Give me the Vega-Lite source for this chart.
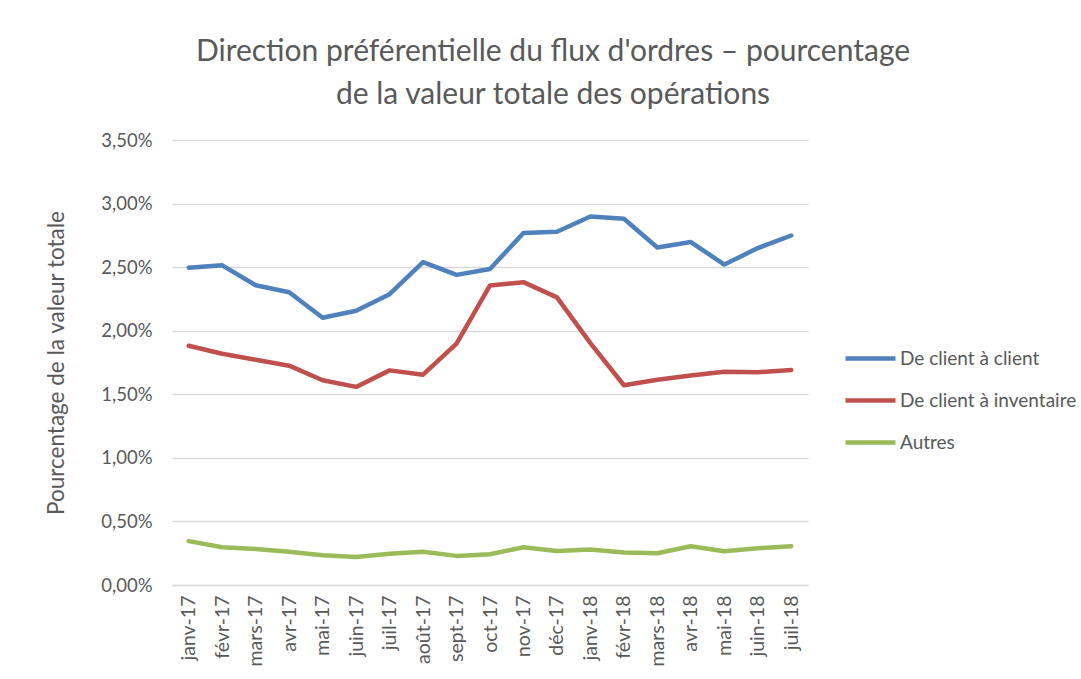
{
  "$schema": "https://vega.github.io/schema/vega-lite/v6.json",
  "autosize": "none",
  "width": 636,
  "height": 445,
  "padding": {"left": 172, "top": 140, "right": 273, "bottom": 94},
  "background": "white",
  "title": {
    "text": ["Direction préférentielle du flux d'ordres – pourcentage", "de la valeur totale des opérations"],
    "anchor": "middle",
    "frame": "group",
    "dx": 63,
    "offset": 21,
    "fontSize": 30,
    "font": "Lato",
    "fontWeight": "normal",
    "color": "#595959",
    "lineHeight": 43
  },
  "data": {
    "values": [
      {"mois": "janv-17", "serie": "De client à client", "valeur": 0.02496},
      {"mois": "févr-17", "serie": "De client à client", "valeur": 0.02514},
      {"mois": "mars-17", "serie": "De client à client", "valeur": 0.02358},
      {"mois": "avr-17", "serie": "De client à client", "valeur": 0.02303},
      {"mois": "mai-17", "serie": "De client à client", "valeur": 0.02102},
      {"mois": "juin-17", "serie": "De client à client", "valeur": 0.02157},
      {"mois": "juil-17", "serie": "De client à client", "valeur": 0.02287},
      {"mois": "août-17", "serie": "De client à client", "valeur": 0.0254},
      {"mois": "sept-17", "serie": "De client à client", "valeur": 0.02439},
      {"mois": "oct-17", "serie": "De client à client", "valeur": 0.02486},
      {"mois": "nov-17", "serie": "De client à client", "valeur": 0.02768},
      {"mois": "déc-17", "serie": "De client à client", "valeur": 0.02778},
      {"mois": "janv-18", "serie": "De client à client", "valeur": 0.02898},
      {"mois": "févr-18", "serie": "De client à client", "valeur": 0.0288},
      {"mois": "mars-18", "serie": "De client à client", "valeur": 0.02655},
      {"mois": "avr-18", "serie": "De client à client", "valeur": 0.02697},
      {"mois": "mai-18", "serie": "De client à client", "valeur": 0.0252},
      {"mois": "juin-18", "serie": "De client à client", "valeur": 0.0265},
      {"mois": "juil-18", "serie": "De client à client", "valeur": 0.02749},
      {"mois": "janv-17", "serie": "De client à inventaire", "valeur": 0.01882},
      {"mois": "févr-17", "serie": "De client à inventaire", "valeur": 0.01819},
      {"mois": "mars-17", "serie": "De client à inventaire", "valeur": 0.01772},
      {"mois": "avr-17", "serie": "De client à inventaire", "valeur": 0.01725},
      {"mois": "mai-17", "serie": "De client à inventaire", "valeur": 0.0161},
      {"mois": "juin-17", "serie": "De client à inventaire", "valeur": 0.01558},
      {"mois": "juil-17", "serie": "De client à inventaire", "valeur": 0.01688},
      {"mois": "août-17", "serie": "De client à inventaire", "valeur": 0.01654},
      {"mois": "sept-17", "serie": "De client à inventaire", "valeur": 0.01898},
      {"mois": "oct-17", "serie": "De client à inventaire", "valeur": 0.02356},
      {"mois": "nov-17", "serie": "De client à inventaire", "valeur": 0.02382},
      {"mois": "déc-17", "serie": "De client à inventaire", "valeur": 0.02262},
      {"mois": "janv-18", "serie": "De client à inventaire", "valeur": 0.01903},
      {"mois": "févr-18", "serie": "De client à inventaire", "valeur": 0.01571},
      {"mois": "mars-18", "serie": "De client à inventaire", "valeur": 0.01615},
      {"mois": "avr-18", "serie": "De client à inventaire", "valeur": 0.01647},
      {"mois": "mai-18", "serie": "De client à inventaire", "valeur": 0.01678},
      {"mois": "juin-18", "serie": "De client à inventaire", "valeur": 0.01673},
      {"mois": "juil-18", "serie": "De client à inventaire", "valeur": 0.01691},
      {"mois": "janv-17", "serie": "Autres", "valeur": 0.00345},
      {"mois": "févr-17", "serie": "Autres", "valeur": 0.00297},
      {"mois": "mars-17", "serie": "Autres", "valeur": 0.00284},
      {"mois": "avr-17", "serie": "Autres", "valeur": 0.00261},
      {"mois": "mai-17", "serie": "Autres", "valeur": 0.00234},
      {"mois": "juin-17", "serie": "Autres", "valeur": 0.00221},
      {"mois": "juil-17", "serie": "Autres", "valeur": 0.00245},
      {"mois": "août-17", "serie": "Autres", "valeur": 0.00261},
      {"mois": "sept-17", "serie": "Autres", "valeur": 0.00229},
      {"mois": "oct-17", "serie": "Autres", "valeur": 0.00242},
      {"mois": "nov-17", "serie": "Autres", "valeur": 0.00297},
      {"mois": "déc-17", "serie": "Autres", "valeur": 0.00268},
      {"mois": "janv-18", "serie": "Autres", "valeur": 0.00279},
      {"mois": "févr-18", "serie": "Autres", "valeur": 0.00255},
      {"mois": "mars-18", "serie": "Autres", "valeur": 0.0025},
      {"mois": "avr-18", "serie": "Autres", "valeur": 0.00305},
      {"mois": "mai-18", "serie": "Autres", "valeur": 0.00266},
      {"mois": "juin-18", "serie": "Autres", "valeur": 0.00289},
      {"mois": "juil-18", "serie": "Autres", "valeur": 0.00305}
    ]
  },
  "mark": {"type": "line", "strokeWidth": 4.5, "strokeCap": "round", "strokeJoin": "round"},
  "encoding": {
    "x": {
      "field": "mois",
      "type": "ordinal",
      "sort": ["janv-17", "févr-17", "mars-17", "avr-17", "mai-17", "juin-17", "juil-17", "août-17", "sept-17", "oct-17", "nov-17", "déc-17", "janv-18", "févr-18", "mars-18", "avr-18", "mai-18", "juin-18", "juil-18"],
      "scale": {"type": "point", "padding": 0.5},
      "axis": {
        "title": null,
        "labelAngle": -90,
        "labelFontSize": 19.5,
        "labelFont": "Lato",
        "labelColor": "#595959",
        "labelPadding": 10,
        "ticks": false,
        "domain": true,
        "domainColor": "#D9D9D9",
        "domainWidth": 1.5,
        "grid": false
      }
    },
    "y": {
      "field": "valeur",
      "type": "quantitative",
      "scale": {"domain": [0, 0.035], "nice": false},
      "axis": {
        "title": "Pourcentage de la valeur totale",
        "titleFont": "Lato",
        "titleFontSize": 22.5,
        "titleFontWeight": "normal",
        "titleColor": "#595959",
        "titlePadding": 32,
        "values": [0, 0.005, 0.01, 0.015, 0.02, 0.025, 0.03, 0.035],
        "format": ".2%",
        "labelFontSize": 18.5,
        "labelFont": "Lato",
        "labelColor": "#595959",
        "labelPadding": 20,
        "ticks": false,
        "domain": false,
        "grid": true,
        "gridColor": "#D9D9D9",
        "gridWidth": 1.5
      }
    },
    "color": {
      "field": "serie",
      "type": "nominal",
      "scale": {
        "domain": ["De client à client", "De client à inventaire", "Autres"],
        "range": ["#4F81BD", "#C0504D", "#9BBB59"]
      },
      "legend": {
        "title": null,
        "orient": "none",
        "legendX": 671,
        "legendY": 191,
        "symbolType": "stroke",
        "symbolSize": 2500,
        "symbolStrokeWidth": 4.5,
        "labelFontSize": 19,
        "labelFont": "Lato",
        "labelColor": "#595959",
        "labelOffset": 2,
        "rowPadding": 4,
        "labelLimit": 300
      }
    }
  },
  "config": {
    "view": {"stroke": null},
    "locale": {
      "number": {"decimal": ",", "thousands": " ", "grouping": [3], "currency": ["", " €"]}
    }
  }
}
